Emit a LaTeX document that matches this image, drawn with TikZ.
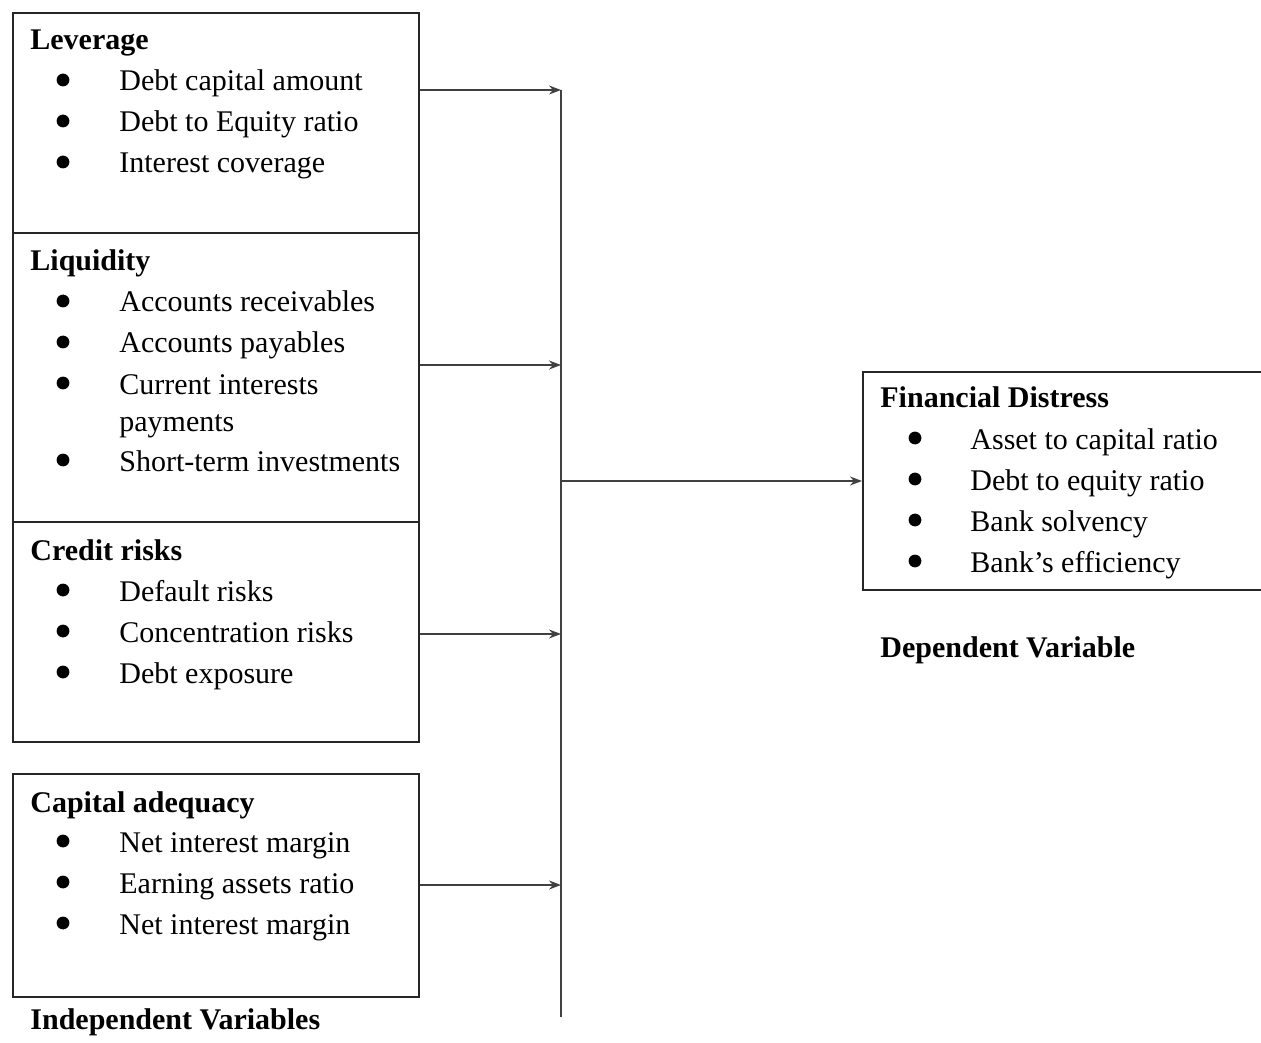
\documentclass[tikz,border=0pt]{standalone}
\usepackage{fontspec}
\setmainfont{Liberation Serif}
\usetikzlibrary{positioning,arrows.meta}

\tikzset{
    varbox/.style={draw=black!85, line width=1pt, anchor=north west, inner sep=0pt, minimum width=203pt},
    head/.style={font=\fontsize{15}{18}\selectfont\bfseries, anchor=base west, inner sep=0pt, yshift=-1pt},
    entry/.style={font=\fontsize{15}{18}\selectfont, anchor=base west, inner sep=0pt, yshift=-1pt},
    link/.style={->, draw=black!75, line width=0.7pt}
}

\begin{document}
\begin{tikzpicture}[x=0.5pt, y=-0.5pt, >={Stealth[length=6pt,width=4.5pt]}]
    \useasboundingbox (0,0) rectangle (1261,1042);

    % Independent variable boxes
    \node[varbox, minimum height=110pt] (lev) at (12,12) {};
    \node[varbox, minimum height=144.5pt] (liq) at (12,232) {};
    \node[varbox, minimum height=110pt] (cred) at (12,521) {};
    \node[varbox, minimum height=111.5pt] (cap) at (12,773) {};

    % Dependent variable box (cut off at the right edge)
    \node[varbox, minimum width=200pt, minimum height=109pt] (fd) at (862,371) {};

    % Leverage
    \node[head] (levT) at (30,48) {Leverage};
    \fill (63,80) circle (3.2pt);
    \node[entry] (lev1) at (119,89) {Debt capital amount};
    \fill (63,121) circle (3.2pt);
    \node[entry] (lev2) at (119,130) {Debt to Equity ratio};
    \fill (63,162) circle (3.2pt);
    \node[entry] (lev3) at (119,171) {Interest coverage};

    % Liquidity
    \node[head] (liqT) at (30,269) {Liquidity};
    \fill (63,301) circle (3.2pt);
    \node[entry] (liq1) at (119,310) {Accounts receivables};
    \fill (63,342) circle (3.2pt);
    \node[entry] (liq2) at (119,351) {Accounts payables};
    \fill (63,383) circle (3.2pt);
    \node[entry] (liq3) at (119,392) {Current interests};
    \node[entry] (liq3b) at (119,429) {payments};
    \fill (63,460) circle (3.2pt);
    \node[entry] (liq4) at (119,469) {Short-term investments};

    % Credit risks
    \node[head] (credT) at (30,558) {Credit risks};
    \fill (63,590) circle (3.2pt);
    \node[entry] (cred1) at (119,599) {Default risks};
    \fill (63,631) circle (3.2pt);
    \node[entry] (cred2) at (119,640) {Concentration risks};
    \fill (63,672) circle (3.2pt);
    \node[entry] (cred3) at (119,681) {Debt exposure};

    % Capital adequacy
    \node[head] (capT) at (30,810) {Capital adequacy};
    \fill (63,841) circle (3.2pt);
    \node[entry] (cap1) at (119,850) {Net interest margin};
    \fill (63,882) circle (3.2pt);
    \node[entry] (cap2) at (119,891) {Earning assets ratio};
    \fill (63,923) circle (3.2pt);
    \node[entry] (cap3) at (119,932) {Net interest margin};

    % Financial Distress
    \node[head] (fdT) at (880,406) {Financial Distress};
    \fill (915,438) circle (3.2pt);
    \node[entry] (fd1) at (970,447) {Asset to capital ratio};
    \fill (915,479) circle (3.2pt);
    \node[entry] (fd2) at (970,488) {Debt to equity ratio};
    \fill (915,520) circle (3.2pt);
    \node[entry] (fd3) at (970,529) {Bank solvency};
    \fill (915,561) circle (3.2pt);
    \node[entry] (fd4) at (970,570) {Bank's efficiency};

    % Captions
    \node[head] (depT) at (880,655) {Dependent Variable};
    \node[head] (indT) at (30,1027) {Independent Variables};

    % Collector line and arrows
    \coordinate (j1) at (561,90);
    \coordinate (j2) at (561,365);
    \coordinate (j3) at (561,634);
    \coordinate (j4) at (561,885);
    \coordinate (jmid) at (561,481);
    \coordinate (jbot) at (561,1017);
    \draw[draw=black!75, line width=0.7pt] (j1) -- (jbot);
    \draw[link] (lev.east |- j1) -- (j1);
    \draw[link] (liq.east |- j2) -- (j2);
    \draw[link] (cred.east |- j3) -- (j3);
    \draw[link] (cap.east |- j4) -- (j4);
    \draw[link] (jmid) -- (fd.west |- jmid);
\end{tikzpicture}
\end{document}
